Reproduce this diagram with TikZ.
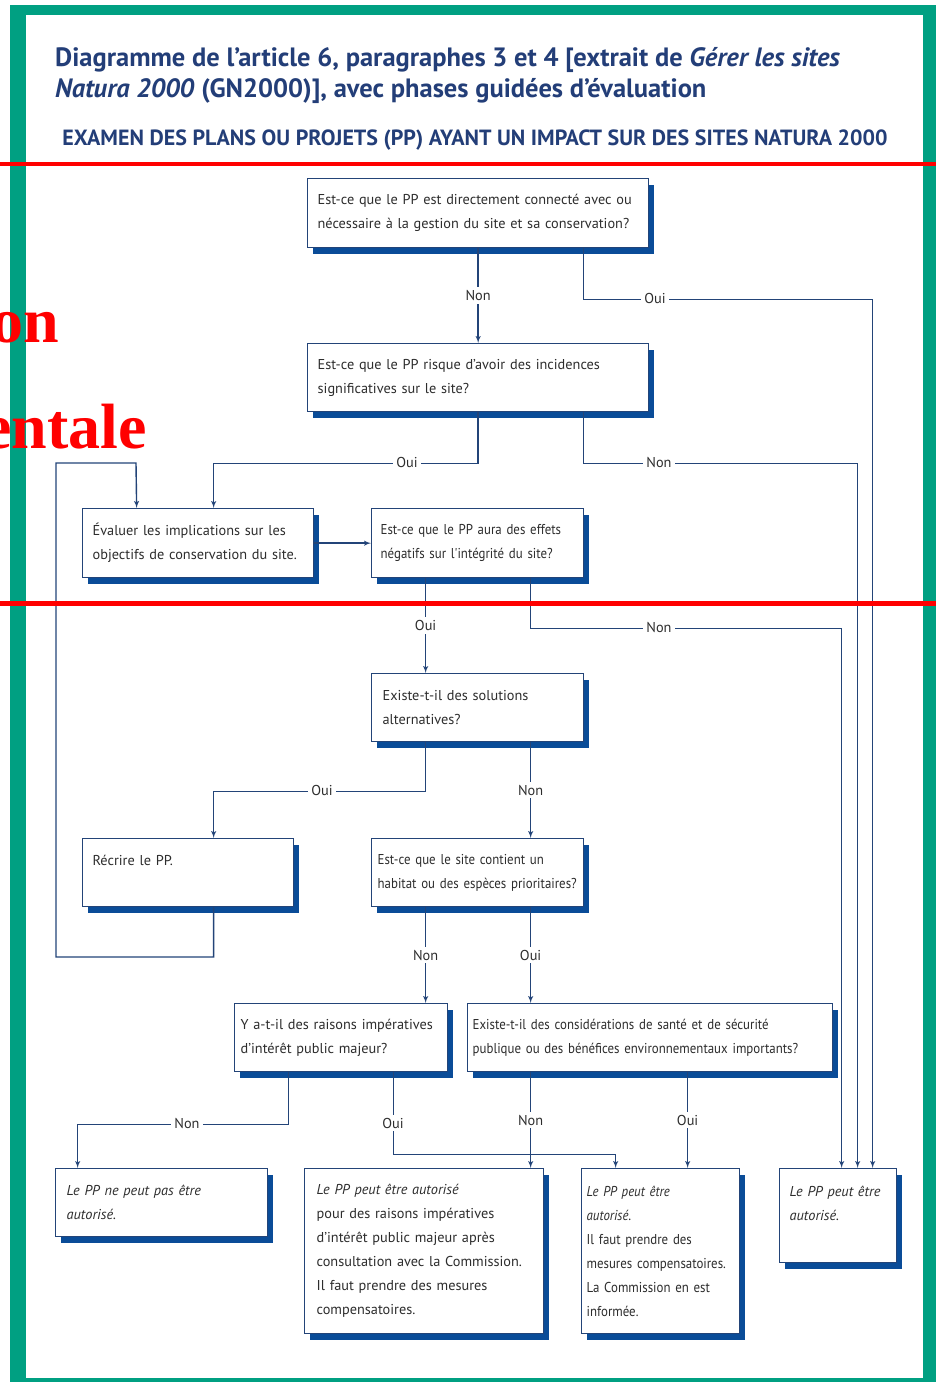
\documentclass[tikz,border=0pt]{standalone}
\usepackage{fontspec}
\setmainfont{PT Sans}
\newfontfamily\serrefont{PT Sans}[FakeStretch=0.9]
\newfontfamily\rougefont{Liberation Serif}
\usepackage{xcolor}
\usetikzlibrary{shapes,arrows,shadows}
\definecolor{vertcadre}{RGB}{0,160,130}
\definecolor{bleutrait}{RGB}{35,68,120}
\definecolor{bleuombre}{RGB}{10,76,152}
\definecolor{bleutitre}{RGB}{35,62,120}
\definecolor{gristexte}{RGB}{45,45,45}
\tikzset{
    block/.style n args={3}{rectangle, draw=bleutrait, line width=1.3pt, fill=white, anchor=north west, align=left, text width=#1, minimum height=#2, inner xsep=#3, inner ysep=3pt, text=gristexte, font=\fontsize{14.3}{24}\selectfont, execute at begin node={\hyphenpenalty=10000\exhyphenpenalty=10000}, general shadow={fill=bleuombre, shadow xshift=5pt, shadow yshift=-6pt}},
    serre/.style={font=\serrefont\fontsize{14.3}{24}\selectfont},
    line/.style={draw=bleutrait, -latex', line width=1.4pt},
    choix/.style={fill=white, inner sep=3pt, text=gristexte, font=\fontsize{14.3}{16}\selectfont},
    titre/.style={text=bleutitre, inner sep=0pt, align=left, font=\bfseries\fontsize{26.5}{31}\selectfont},
    rouge/.style={text=red, inner sep=0pt, font=\rougefont\bfseries\fontsize{64}{64}\selectfont}
}

\begin{document}
\begin{tikzpicture}[x=1pt, y=-1pt]
    \useasboundingbox (0,0) rectangle (936,1382);
    \clip (0,0) rectangle (936,1382);

    % cadre vert
    \fill[vertcadre] (10,5) rectangle (940,1390);
    \fill[white] (26,15) rectangle (923,1378);

    % titres
    \node[titre, anchor=base west] (titre) at (55,97) {Diagramme de l'article 6, paragraphes 3 et 4 [extrait de \textit{Gérer les sites}\\\textit{Natura 2000} (GN2000)], avec phases guidées d'évaluation};
    \node[titre, font=\bfseries\fontsize{22}{24}\selectfont] (soustitre) at (475,140) {EXAMEN DES PLANS OU PROJETS (PP) AYANT UN IMPACT SUR DES SITES NATURA 2000};

    % questions
    \node[block={321pt}{69pt}{10pt}] (q1) at (307,178) {Est-ce que le PP est directement connecté avec ou\\nécessaire à la gestion du site et sa conservation?};
    \node[block={321pt}{68pt}{10pt}] (q2) at (307,343) {Est-ce que le PP risque d'avoir des incidences\\significatives sur le site?};
    \node[block={211pt}{69pt}{10pt}] (eval) at (82,508) {Évaluer les implications sur les\\objectifs de conservation du site.};
    \node[block={194pt}{69pt}{9pt}, serre] (q3) at (371,508) {Est-ce que le PP aura des effets\\négatifs sur l'intégrité du site?};
    \node[block={190pt}{68pt}{11pt}] (q4) at (371,673) {Existe-t-il des solutions\\alternatives?};
    \node[block={191pt}{68pt}{10pt}] (recrire) at (82,838) {Récrire le PP.\\~};
    \node[block={200pt}{68pt}{6pt}, serre] (q5) at (371,838) {Est-ce que le site contient un\\habitat ou des espèces prioritaires?};
    \node[block={201pt}{68pt}{6pt}] (q6) at (234,1003) {Y a-t-il des raisons impératives\\d'intérêt public majeur?};
    \node[block={355pt}{68pt}{5pt}, serre] (q7) at (467,1003) {Existe-t-il des considérations de santé et de sécurité\\publique ou des bénéfices environnementaux importants?};

    % conclusions
    \node[block={190pt}{68pt}{11pt}] (r1) at (55,1168) {\itshape Le PP ne peut pas être\\autorisé.};
    \node[block={215pt}{165pt}{12pt}] (r2) at (304,1168) {{\itshape Le PP peut être autorisé}\\pour des raisons impératives\\d'intérêt public majeur après\\consultation avec la Commission.\\Il faut prendre des mesures\\compensatoires.};
    \node[block={148pt}{165pt}{5pt}, serre] (r3) at (581,1168) {{\itshape Le PP peut être\\autorisé.}\\Il faut prendre des\\mesures compensatoires.\\La Commission en est\\informée.};
    \node[block={97pt}{94pt}{10pt}] (r4) at (779,1168) {{\itshape Le PP peut être\\autorisé.}\\~};

    % liaisons
    \draw[line] (q1.south) -- node[choix] (n1) {Non} (q2.north);
    \draw[line] ([xshift=105.5pt]q1.south) -- ++(0,51) -| ([xshift=34.5pt]r4.north);
    \node[choix] (o1) at (655,298) {Oui};

    \draw[line] (q2.south) -- ++(0,51) -| ([xshift=15.5pt]eval.north);
    \node[choix] (o2) at (407,462) {Oui};
    \draw[line] ([xshift=105.5pt]q2.south) -- ++(0,51) -| ([xshift=19.5pt]r4.north);
    \node[choix] (n2) at (659,462) {Non};

    \draw[line] (eval.east) -- (q3.west);
    \draw[line] ([xshift=-52pt]q3.south) -- node[choix] (o3) {Oui} ([xshift=-52pt]q4.north);
    \draw[line] ([xshift=53pt]q3.south) -- ++(0,50) -| ([xshift=3.5pt]r4.north);
    \node[choix] (n3) at (659,627) {Non};

    \draw[line] ([xshift=-52pt]q4.south) -- ++(0,49) -| ([xshift=25.5pt]recrire.north);
    \node[choix] (o4) at (322,790) {Oui};
    \draw[line] ([xshift=53pt]q4.south) -- node[choix] (n4) {Non} ([xshift=53pt]q5.north);

    % retour vers l'évaluation
    \draw[line] ([xshift=25.5pt]recrire.south) |- (56,957) |- (136,463) -- ([xshift=-61.5pt]eval.north);

    \draw[line] ([xshift=-52pt]q5.south) -- node[choix] (n5) {Non} ([xshift=84.5pt]q6.north);
    \draw[line] ([xshift=53pt]q5.south) -- node[choix] (o5) {Oui} ([xshift=-119.5pt]q7.north);

    \draw[line] ([xshift=-52.5pt]q6.south) -- ++(0,52) -| ([xshift=-84pt]r1.north);
    \node[choix] (n6) at (187,1123) {Non};
    \draw[line] ([xshift=52.5pt]q6.south) -- ++(0,82) -| ([xshift=-45pt]r3.north);
    \node[choix] (o6) at (393,1123) {Oui};
    \draw[line] ([xshift=-119.5pt]q7.south) -- node[choix] (n7) {Non} ([xshift=106.5pt]r2.north);
    \draw[line] ([xshift=37.5pt]q7.south) -- node[choix] (o7) {Oui} ([xshift=27pt]r3.north);

    % traits et mots rouges par-dessus
    \draw[red, line width=4pt] (0,164) -- (936,164);
    \draw[red, line width=5pt] (0,603) -- (936,603);
    \node[rouge, anchor=base east] (mot1) at (59,342) {on};
    \node[rouge, anchor=base east] (mot2) at (147,448) {entale};
\end{tikzpicture}
\end{document}
